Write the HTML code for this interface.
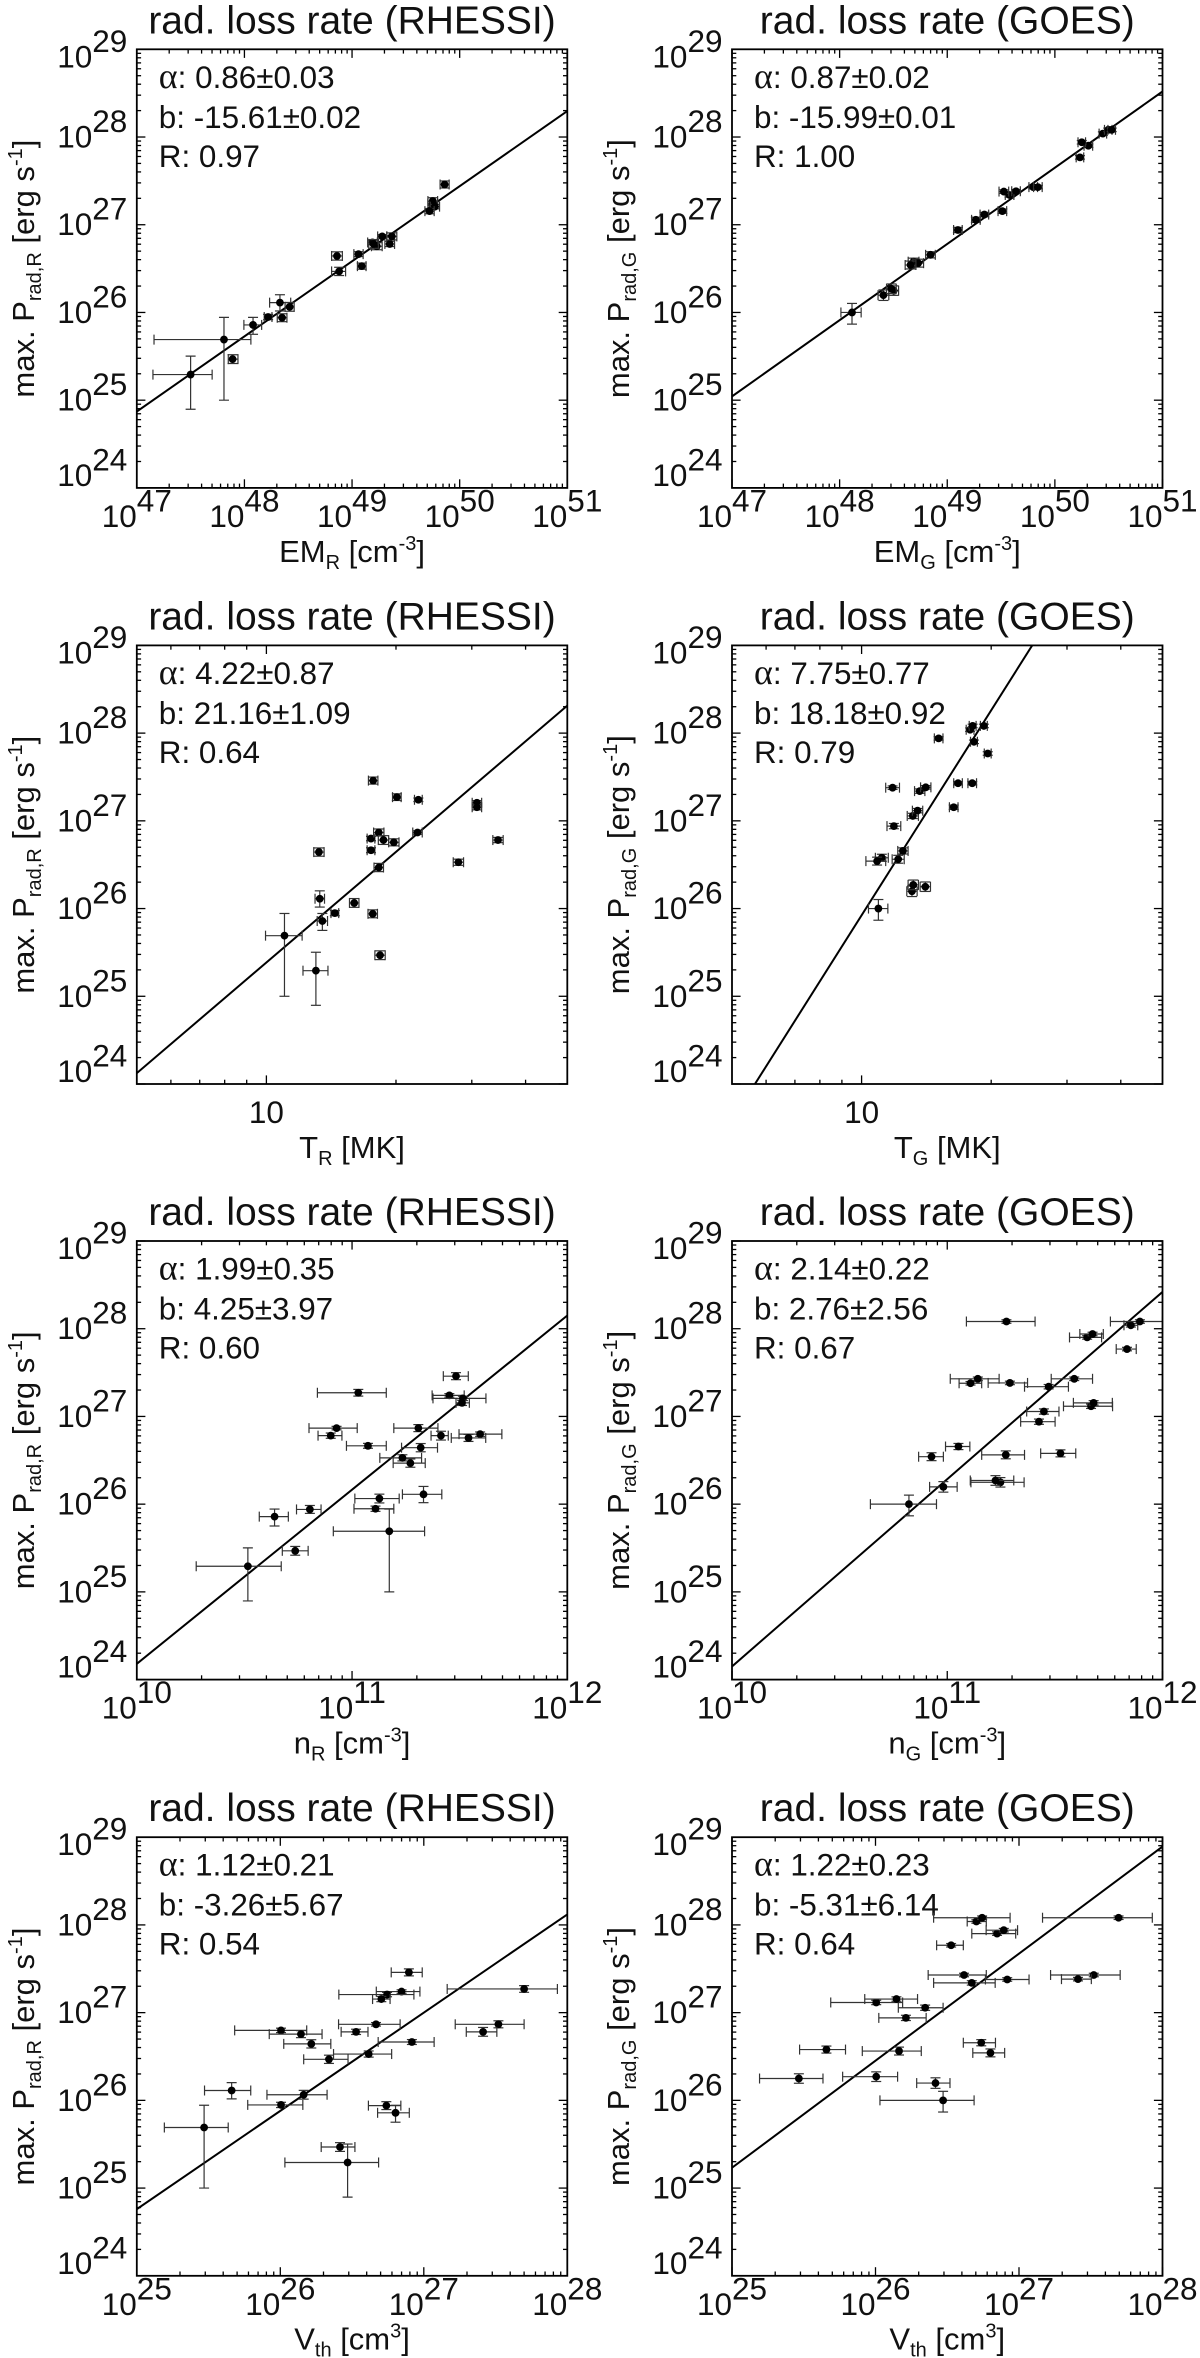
<!DOCTYPE html>
<html lang="en">
<head>
<meta charset="utf-8">
<title>Radiative loss rate correlations</title>
<style>
html,body{margin:0;padding:0;background:#fff;}
svg{display:block;}
text{font-family:"Liberation Sans",sans-serif;fill:#111;}
.t{font-size:39px;text-anchor:middle;}
.a{font-size:31px;text-anchor:middle;}
.s{font-size:31.4px;}
.g{font-family:"Liberation Serif",serif;font-size:36px;}
</style>
</head>
<body>
<svg id="figure" xmlns="http://www.w3.org/2000/svg" width="1200" height="2358" viewBox="0 0 1200 2358">
<rect width="1200" height="2358" fill="#fff"/>

<g id="p0" transform="translate(136.8,49.3)">
<text class="t" x="215.25" y="-16">rad. loss rate (RHESSI)</text>
<text class="a" transform="translate(-103,219.3) rotate(-90)">max. P<tspan dy="7" font-size="20">rad,R</tspan><tspan dy="-7"> [erg s</tspan><tspan dy="-12" font-size="20">-1</tspan><tspan dy="12">]</tspan></text>
<text class="a" x="215.25" y="512.6">EM<tspan dy="7" font-size="20">R</tspan><tspan dy="-7"> [cm</tspan><tspan dy="-12" font-size="20">-3</tspan><tspan dy="12">]</tspan></text>
<text class="s" x="22" y="38.5"><tspan class="g">α</tspan>: 0.86±0.03</text>
<text class="s" x="22" y="78.5">b: -15.61±0.02</text>
<text class="s" x="22" y="117.5">R: 0.97</text>
</g>

<g id="p1" transform="translate(732,49.3)">
<text class="t" x="215.25" y="-16">rad. loss rate (GOES)</text>
<text class="a" transform="translate(-103,219.3) rotate(-90)">max. P<tspan dy="7" font-size="20">rad,G</tspan><tspan dy="-7"> [erg s</tspan><tspan dy="-12" font-size="20">-1</tspan><tspan dy="12">]</tspan></text>
<text class="a" x="215.25" y="512.6">EM<tspan dy="7" font-size="20">G</tspan><tspan dy="-7"> [cm</tspan><tspan dy="-12" font-size="20">-3</tspan><tspan dy="12">]</tspan></text>
<text class="s" x="22" y="38.5"><tspan class="g">α</tspan>: 0.87±0.02</text>
<text class="s" x="22" y="78.5">b: -15.99±0.01</text>
<text class="s" x="22" y="117.5">R: 1.00</text>
</g>

<g id="p2" transform="translate(136.8,645.4)">
<text class="t" x="215.25" y="-16">rad. loss rate (RHESSI)</text>
<text class="a" transform="translate(-103,219.3) rotate(-90)">max. P<tspan dy="7" font-size="20">rad,R</tspan><tspan dy="-7"> [erg s</tspan><tspan dy="-12" font-size="20">-1</tspan><tspan dy="12">]</tspan></text>
<text class="a" x="215.25" y="512.6">T<tspan dy="7" font-size="20">R</tspan><tspan dy="-7"> [MK]</tspan></text>
<text class="s" x="22" y="38.5"><tspan class="g">α</tspan>: 4.22±0.87</text>
<text class="s" x="22" y="78.5">b: 21.16±1.09</text>
<text class="s" x="22" y="117.5">R: 0.64</text>
</g>

<g id="p3" transform="translate(732,645.4)">
<text class="t" x="215.25" y="-16">rad. loss rate (GOES)</text>
<text class="a" transform="translate(-103,219.3) rotate(-90)">max. P<tspan dy="7" font-size="20">rad,G</tspan><tspan dy="-7"> [erg s</tspan><tspan dy="-12" font-size="20">-1</tspan><tspan dy="12">]</tspan></text>
<text class="a" x="215.25" y="512.6">T<tspan dy="7" font-size="20">G</tspan><tspan dy="-7"> [MK]</tspan></text>
<text class="s" x="22" y="38.5"><tspan class="g">α</tspan>: 7.75±0.77</text>
<text class="s" x="22" y="78.5">b: 18.18±0.92</text>
<text class="s" x="22" y="117.5">R: 0.79</text>
</g>

<g id="p4" transform="translate(136.8,1241)">
<text class="t" x="215.25" y="-16">rad. loss rate (RHESSI)</text>
<text class="a" transform="translate(-103,219.3) rotate(-90)">max. P<tspan dy="7" font-size="20">rad,R</tspan><tspan dy="-7"> [erg s</tspan><tspan dy="-12" font-size="20">-1</tspan><tspan dy="12">]</tspan></text>
<text class="a" x="215.25" y="512.6">n<tspan dy="7" font-size="20">R</tspan><tspan dy="-7"> [cm</tspan><tspan dy="-12" font-size="20">-3</tspan><tspan dy="12">]</tspan></text>
<text class="s" x="22" y="38.5"><tspan class="g">α</tspan>: 1.99±0.35</text>
<text class="s" x="22" y="78.5">b: 4.25±3.97</text>
<text class="s" x="22" y="117.5">R: 0.60</text>
</g>

<g id="p5" transform="translate(732,1241)">
<text class="t" x="215.25" y="-16">rad. loss rate (GOES)</text>
<text class="a" transform="translate(-103,219.3) rotate(-90)">max. P<tspan dy="7" font-size="20">rad,G</tspan><tspan dy="-7"> [erg s</tspan><tspan dy="-12" font-size="20">-1</tspan><tspan dy="12">]</tspan></text>
<text class="a" x="215.25" y="512.6">n<tspan dy="7" font-size="20">G</tspan><tspan dy="-7"> [cm</tspan><tspan dy="-12" font-size="20">-3</tspan><tspan dy="12">]</tspan></text>
<text class="s" x="22" y="38.5"><tspan class="g">α</tspan>: 2.14±0.22</text>
<text class="s" x="22" y="78.5">b: 2.76±2.56</text>
<text class="s" x="22" y="117.5">R: 0.67</text>
</g>

<g id="p6" transform="translate(136.8,1837.2)">
<text class="t" x="215.25" y="-16">rad. loss rate (RHESSI)</text>
<text class="a" transform="translate(-103,219.3) rotate(-90)">max. P<tspan dy="7" font-size="20">rad,R</tspan><tspan dy="-7"> [erg s</tspan><tspan dy="-12" font-size="20">-1</tspan><tspan dy="12">]</tspan></text>
<text class="a" x="215.25" y="512.4">V<tspan dy="7" font-size="20">th</tspan><tspan dy="-7"> [cm</tspan><tspan dy="-12" font-size="20">3</tspan><tspan dy="12">]</tspan></text>
<text class="s" x="22" y="38.5"><tspan class="g">α</tspan>: 1.12±0.21</text>
<text class="s" x="22" y="78.5">b: -3.26±5.67</text>
<text class="s" x="22" y="117.5">R: 0.54</text>
</g>

<g id="p7" transform="translate(732,1837.2)">
<text class="t" x="215.25" y="-16">rad. loss rate (GOES)</text>
<text class="a" transform="translate(-103,219.3) rotate(-90)">max. P<tspan dy="7" font-size="20">rad,G</tspan><tspan dy="-7"> [erg s</tspan><tspan dy="-12" font-size="20">-1</tspan><tspan dy="12">]</tspan></text>
<text class="a" x="215.25" y="512.4">V<tspan dy="7" font-size="20">th</tspan><tspan dy="-7"> [cm</tspan><tspan dy="-12" font-size="20">3</tspan><tspan dy="12">]</tspan></text>
<text class="s" x="22" y="38.5"><tspan class="g">α</tspan>: 1.22±0.23</text>
<text class="s" x="22" y="78.5">b: -5.31±6.14</text>
<text class="s" x="22" y="117.5">R: 0.64</text>
</g>
</svg>

<script>
// All values are log10 of the physical quantity; errors are in dex.
// --- RHESSI events: radiative loss rate
const pradR = [25.292,25.691,25.468,25.858,25.948,26.112,25.94,26.064,26.644,26.468,26.665,26.528,26.798,26.755,26.867,26.781,26.867,26.781,27.459,27.27,27.24,27.206,27.155];
const pradRUp = [.21,.253,.05,.086,.03,.09,.045,.05,.047,.047,.028,.035,.025,.04,.02,.03,.04,.05,.04,.038,.02,.025,.03];
const pradRDown = [.395,.691,.05,.107,.03,.095,.045,.05,.047,.047,.028,.035,.025,.04,.02,.03,.04,.05,.04,.038,.02,.025,.03];
// --- GOES events: radiative loss rate
const pradG = [26.0,26.197,26.249,26.27,26.579,26.562,26.657,26.541,26.94,27.056,27.116,27.155,27.429,27.429,27.339,27.378,27.382,27.768,27.901,27.94,28.039,28.082,28.082];
const pradGUp = [.103,.06,.054,.055,.04,.045,.035,.045,.03,.03,.025,.025,.02,.02,.025,.02,.02,.02,.02,.02,.02,.02,.02];
const pradGDown = [.133,.06,.054,.055,.04,.045,.035,.045,.03,.03,.025,.025,.02,.02,.025,.02,.02,.02,.02,.02,.02,.02,.02];

// --- emission measure, RHESSI
const emR = [47.50,47.81,47.89,48.08,48.22,48.33,48.35,48.42,48.86,48.88,49.06,49.09,49.19,49.23,49.28,49.35,49.37,49.20,49.86,49.75,49.75,49.77,49.72];
const emRLo = [.35,.65,.04,.085,.036,.096,.045,.042,.05,.07,.043,.04,.045,.05,.042,.045,.046,.045,.042,.045,.045,.043,.043];
const emRHi = [.20,.25,.05,.08,.036,.10,.045,.042,.05,.06,.043,.04,.045,.05,.042,.045,.046,.045,.042,.045,.045,.043,.043];
// --- emission measure, GOES
const emG = [48.115,48.407,48.503,48.481,48.687,48.73,48.844,48.659,49.099,49.266,49.345,49.512,49.799,49.842,49.579,49.526,49.639,50.233,50.311,50.25,50.446,50.496,50.528];
const emGLo = [.103,.05,.045,.045,.05,.05,.045,.05,.04,.04,.04,.04,.04,.04,.04,.045,.04,.035,.04,.035,.035,.035,.035];
const emGHi = [.085,.05,.045,.045,.05,.05,.045,.05,.04,.04,.04,.04,.04,.04,.04,.045,.04,.035,.04,.035,.035,.035,.035];

// --- temperature, RHESSI
const tempR = [1.115,1.042,1.264,1.130,1.159,1.124,1.247,1.204,1.122,1.261,1.243,1.446,1.243,1.296,1.351,1.538,1.261,1.272,1.248,1.303,1.353,1.489,1.489];
const tempRLo = [.030,.044,.012,.012,.009,.011,.011,.011,.012,.011,.009,.012,.009,.012,.011,.012,.012,.012,.011,.010,.009,.011,.011];
const tempRHi = [.028,.041,.012,.012,.009,.011,.011,.011,.012,.011,.009,.012,.009,.012,.011,.012,.012,.012,.011,.010,.009,.011,.011];
// --- temperature, GOES
const tempG = [1.039,1.117,1.148,1.12,1.047,1.085,1.096,1.036,1.075,1.119,1.13,1.214,1.224,1.257,1.135,1.072,1.149,1.293,1.261,1.179,1.252,1.258,1.284];
const tempGLo = [.023,.012,.012,.012,.015,.014,.012,.026,.016,.013,.012,.01,.01,.01,.012,.016,.012,.008,.008,.01,.009,.008,.008];
const tempGHi = [.022,.012,.012,.012,.015,.014,.012,.02,.016,.013,.012,.01,.01,.01,.012,.016,.012,.008,.008,.01,.009,.008,.008];

// --- density, RHESSI
const densR = [10.516,11.173,10.736,10.64,11.109,11.332,10.804,11.127,11.319,11.271,11.074,11.234,11.595,11.541,10.928,10.901,11.308,11.413,11.483,11.029,11.452,11.515,11.511];
const densRLo = [.24,.26,.06,.071,.10,.098,.062,.114,.089,.08,.10,.105,.098,.08,.128,.059,.114,.046,.059,.19,.08,.139,.028];
const densRHi = [.155,.164,.06,.064,.085,.085,.052,.092,.078,.069,.085,.089,.101,.08,.096,.052,.091,.034,.057,.13,.069,.107,.034];
// --- density, GOES
const densG = [10.822,10.982,11.247,11.224,11.526,11.272,11.052,10.927,11.426,11.449,11.668,11.68,11.59,11.142,11.471,11.108,11.291,11.835,11.65,11.675,11.853,11.895,11.275];
const densGLo = [.179,.064,.137,.117,.092,.112,.06,.06,.085,.08,.128,.094,.107,.128,.112,.053,.101,.05,.082,.059,.032,.137,.186];
const densGHi = [.128,.064,.11,.085,.071,.087,.053,.055,.075,.07,.10,.087,.085,.099,.092,.052,.082,.043,.067,.05,.032,.105,.133];

// --- thermal volume, RHESSI
const volR = [26.469,25.469,26.416,26.803,26.005,25.661,26.739,26.163,26.216,26.339,26.917,26.616,26.005,26.144,26.667,26.528,27.52,27.413,26.896,27.699,26.845,26.744,26.704];
const volRLo = [.437,.277,.131,.125,.232,.189,.125,.256,.192,.176,.235,.245,.323,.221,.261,.104,.301,.117,.123,.536,.176,.336,.061];
const volRHi = [.216,.168,.104,.096,.152,.133,.101,.163,.136,.133,.155,.16,.179,.147,.168,.083,.179,.096,.093,.232,.128,.187,.061];
// --- thermal volume, GOES
const volG = [26.471,26.418,25.466,26.005,25.658,26.164,26.737,26.801,26.212,26.346,26.005,26.146,26.617,27.521,26.671,26.918,27.411,26.527,26.847,26.894,26.703,26.743,27.694];
const volGLo = [.44,.131,.274,.234,.187,.256,.125,.123,.189,.187,.317,.221,.25,.301,.266,.152,.115,.101,.176,.123,.064,.338,.53];
const volGHi = [.216,.101,.168,.149,.133,.155,.099,.099,.141,.125,.184,.147,.155,.184,.163,.152,.093,.085,.13,.096,.069,.195,.235];

// --- fit lines: log10(P) at the left and right edges of each panel
const fitLeft = [24.871,25.043,24.124,23.586,24.18,24.15,24.76,25.232];
const fitRight = [28.296,28.519,28.313,31.35,28.15,28.42,28.12,28.893];

// --- axis ticks
const yExponents = [24,25,26,27,28,29];
const emExponents = [47,48,49,50,51];
const densExponents = [10,11,12];
const volExponents = [25,26,27,28];
const tempMajorTicks = [10];
const tempMinorTicks = [6,7,8,9,20,30,40];
const minorMultipliers = [2,3,4,5,6,7,8,9];
const tempRange = [5,50];

const W = 430.5, H = 438.6;
const NS = 'http://www.w3.org/2000/svg';
const Y_MIN = yExponents[0], Y_MAX = yExponents[yExponents.length - 1];

const panels = [
  {id:'p0', x:emR,  xl:emRLo,  xh:emRHi,  y:pradR, yu:pradRUp, yd:pradRDown, exps:emExponents},
  {id:'p1', x:emG,  xl:emGLo,  xh:emGHi,  y:pradG, yu:pradGUp, yd:pradGDown, exps:emExponents},
  {id:'p2', x:tempR,xl:tempRLo,xh:tempRHi,y:pradR, yu:pradRUp, yd:pradRDown, temp:true},
  {id:'p3', x:tempG,xl:tempGLo,xh:tempGHi,y:pradG, yu:pradGUp, yd:pradGDown, temp:true},
  {id:'p4', x:densR,xl:densRLo,xh:densRHi,y:pradR, yu:pradRUp, yd:pradRDown, exps:densExponents},
  {id:'p5', x:densG,xl:densGLo,xh:densGHi,y:pradG, yu:pradGUp, yd:pradGDown, exps:densExponents},
  {id:'p6', x:volR, xl:volRLo, xh:volRHi, y:pradR, yu:pradRUp, yd:pradRDown, exps:volExponents},
  {id:'p7', x:volG, xl:volGLo, xh:volGHi, y:pradG, yu:pradGUp, yd:pradGDown, exps:volExponents}
];

function svgEl(tag, attrs, parent) {
  const e = document.createElementNS(NS, tag);
  for (const k in attrs) e.setAttribute(k, attrs[k]);
  parent.appendChild(e);
  return e;
}

function powerLabel(parent, base, exp, x, y, anchor) {
  const t = svgEl('text', {x:x, y:y, 'text-anchor':anchor, 'font-size':31.5}, parent);
  t.appendChild(document.createTextNode(base));
  const s = svgEl('tspan', {dy:-15.5}, t);
  s.textContent = exp;
  return t;
}

panels.forEach(function (p, idx) {
  const g = document.getElementById(p.id);
  let xMin, xMax;
  if (p.temp) {
    xMin = Math.log10(tempRange[0]);
    xMax = Math.log10(tempRange[1]);
  } else {
    xMin = p.exps[0];
    xMax = p.exps[p.exps.length - 1];
  }
  const sx = function (v) { return (v - xMin) / (xMax - xMin) * W; };
  const sy = function (v) { return H - (v - Y_MIN) / (Y_MAX - Y_MIN) * H; };

  const clip = svgEl('clipPath', {id:'clip' + idx}, g);
  svgEl('rect', {x:0, y:0, width:W, height:H}, clip);

  // fit line
  const fit = svgEl('line', {x1:sx(xMin), y1:sy(fitLeft[idx]), x2:sx(xMax), y2:sy(fitRight[idx]),
    stroke:'#000', 'stroke-width':2, 'clip-path':'url(#clip' + idx + ')'}, g);
  
  

  // points with error bars
  const marks = svgEl('g', {'clip-path':'url(#clip' + idx + ')'}, g);
  
  
  const CAP = 5;
  p.x.forEach(function (xv, i) {
    const pt = svgEl('g', {stroke:'#333', 'stroke-width':1.2}, marks);
    
    
    const cx = sx(xv), cy = sy(p.y[i]);
    const x0 = sx(xv - p.xl[i]), x1 = sx(xv + p.xh[i]);
    const y0 = sy(p.y[i] - p.yd[i]), y1 = sy(p.y[i] + p.yu[i]);
    svgEl('line', {x1:x0, y1:cy, x2:x1, y2:cy}, pt);
    svgEl('line', {x1:x0, y1:cy - CAP, x2:x0, y2:cy + CAP}, pt);
    svgEl('line', {x1:x1, y1:cy - CAP, x2:x1, y2:cy + CAP}, pt);
    svgEl('line', {x1:cx, y1:y0, x2:cx, y2:y1}, pt);
    svgEl('line', {x1:cx - CAP, y1:y0, x2:cx + CAP, y2:y0}, pt);
    svgEl('line', {x1:cx - CAP, y1:y1, x2:cx + CAP, y2:y1}, pt);
    svgEl('circle', {cx:cx, cy:cy, r:3.9, fill:'#000', stroke:'none'}, pt);
  });

  // ticks
  const ticks = svgEl('g', {stroke:'#000', 'stroke-width':1.3, fill:'none'}, g);
  
  
  const MAJOR = 8.6, MINOR = 4.3;
  const xTick = function (px, len) {
    svgEl('line', {x1:px, y1:H, x2:px, y2:H - len}, ticks);
    svgEl('line', {x1:px, y1:0, x2:px, y2:len}, ticks);
  };
  const yTick = function (py, len) {
    svgEl('line', {x1:0, y1:py, x2:len, y2:py}, ticks);
    svgEl('line', {x1:W, y1:py, x2:W - len, y2:py}, ticks);
  };
  if (p.temp) {
    tempMajorTicks.forEach(function (v) { xTick(sx(Math.log10(v)), MAJOR); });
    tempMinorTicks.forEach(function (v) { xTick(sx(Math.log10(v)), MINOR); });
  } else {
    p.exps.forEach(function (e, k) {
      xTick(sx(e), MAJOR);
      if (k < p.exps.length - 1) {
        minorMultipliers.forEach(function (m) { xTick(sx(e + Math.log10(m)), MINOR); });
      }
    });
  }
  yExponents.forEach(function (e, k) {
    yTick(sy(e), MAJOR);
    if (k < yExponents.length - 1) {
      minorMultipliers.forEach(function (m) { yTick(sy(e + Math.log10(m)), MINOR); });
    }
  });

  // frame
  const frame = svgEl('rect', {x:0, y:0, width:W, height:H, fill:'none', stroke:'#000', 'stroke-width':1.8}, g);
  
  

  // x tick labels
  if (p.temp) {
    tempMajorTicks.forEach(function (v) {
      const lab = svgEl('text', {x:sx(Math.log10(v)), y:H + 39, 'text-anchor':'middle', 'font-size':31.5}, g);
      lab.textContent = String(v);
      
      
    });
  } else {
    p.exps.forEach(function (e) {
      const lab = powerLabel(g, '10', String(e), sx(e), H + 39, 'middle');
      
      
    });
  }

  // y tick labels
  yExponents.forEach(function (e) {
    let off = 10.5;
    if (e === Y_MAX) off = 18;
    if (e === Y_MIN) off = -2;
    const lab = powerLabel(g, '10', String(e), -9.5, sy(e) + off, 'end');
    
    
  });
});
</script>
</body>
</html>
